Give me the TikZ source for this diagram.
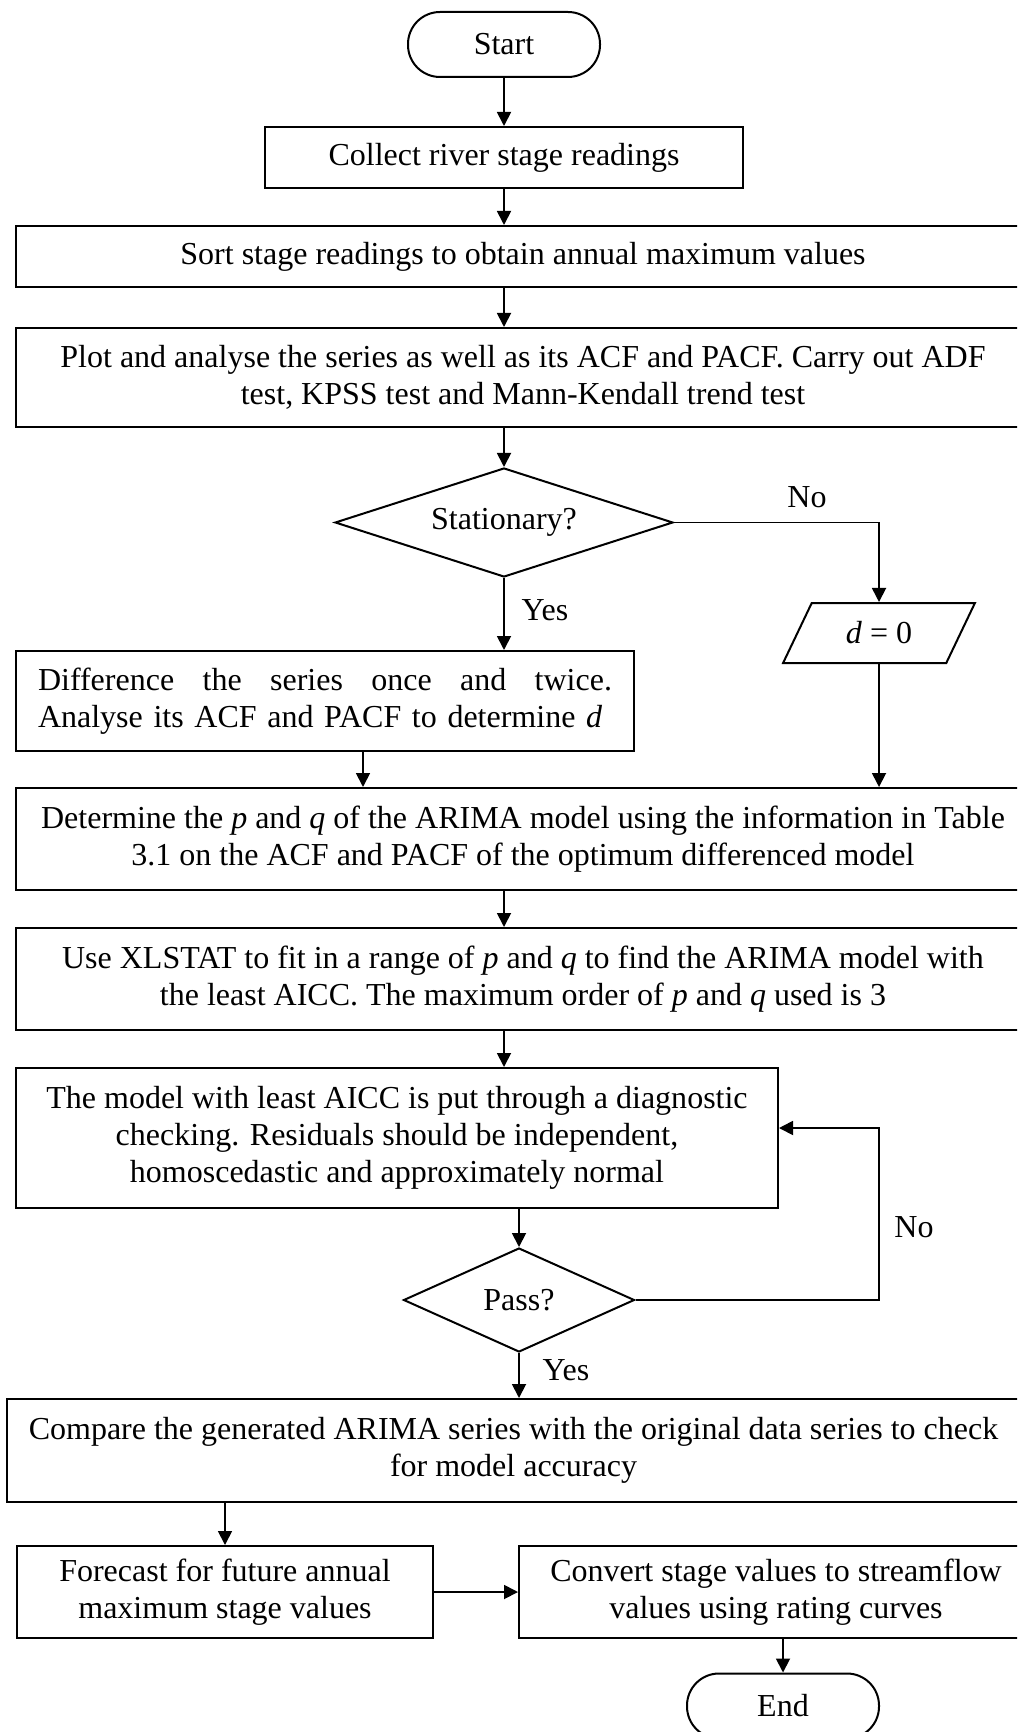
\documentclass[tikz,border=0pt]{standalone}
\usepackage{fontspec}
\setmainfont{Liberation Serif}
\usetikzlibrary{arrows.meta,shapes.geometric}

\begin{document}
\begin{tikzpicture}[x=0.5pt, y=-0.5pt, line width=0.9pt, >={Triangle[length=7pt,width=7pt]},
  every node/.style={font=\fontsize{16}{18.5}\selectfont, align=center},
  box/.style={draw, line width=1pt, inner sep=0pt},
  widebox/.style={box, minimum width=507pt},
  term/.style={box, rounded corners=16pt, minimum width=96pt, minimum height=32.5pt},
  decision/.style={box, diamond, aspect=2},
  io/.style={box, trapezium, trapezium left angle=58, trapezium right angle=122,
    trapezium stretches=true, minimum width=96pt, minimum height=30pt},
  lbl/.style={inner sep=0pt}]

  \useasboundingbox (0,0) rectangle (1017,1732);
  \clip (0,0) rectangle (1017,1732);
  \coordinate (col) at (504,0);

  % main column
  \node[term] (start) at (504,44.5) {Start};
  \node[box, minimum width=239pt, minimum height=30.5pt] (collect) at (504,157.5) {Collect river stage readings};
  \node[widebox, minimum height=30.5pt] (sort) at (523,256.5) {Sort stage readings to obtain annual maximum values};
  \node[widebox, minimum height=49.5pt] (plot) at (523,377.5) {Plot and analyse the series as well as its ACF and PACF. Carry out ADF\\ test, KPSS test and Mann-Kendall trend test};
  \node[decision, minimum width=169pt, minimum height=54.5pt] (stat) at (504,522.5) {Stationary?};
  \node[io] (dzero) at (879,633) {\textit{d} = 0};
  \node[box, minimum width=309pt, minimum height=50pt, text width=287pt, align=left] (diff) at (325,701)
    {Difference\hfill the\hfill series\hfill once\hfill and\hfill twice.\\ Analyse its ACF and PACF to determine \textit{d}};
  \node[widebox, minimum height=51pt] (determ) at (523,839) {Determine the \textit{p} and \textit{q} of the ARIMA model using the information in Table\\ 3.1 on the ACF and PACF of the optimum differenced model};
  \node[widebox, minimum height=51pt] (xlstat) at (523,979) {Use XLSTAT to fit in a range of \textit{p} and \textit{q} to find the ARIMA model with\\ the least AICC. The maximum order of \textit{p} and \textit{q} used is 3};
  \node[box, minimum width=381pt, minimum height=70pt] (diag) at (397,1138) {The model with least AICC is put through a diagnostic\\ checking. Residuals should be independent,\\ homoscedastic and approximately normal};
  \node[decision, minimum width=115.5pt, minimum height=52pt] (pass) at (519,1300) {Pass?};
  \node[box, minimum width=506.5pt, minimum height=51.5pt] (compare) at (513.5,1450.5) {Compare the generated ARIMA series with the original data series to check\\ for model accuracy};
  \node[box, minimum width=208pt, minimum height=46pt] (forecast) at (225,1592) {Forecast for future annual\\ maximum stage values};
  \node[box, minimum width=257pt, minimum height=46pt] (convert) at (776,1592) {Convert stage values to streamflow\\ values using rating curves};
  \node[term] (finish) at (783,1706) {End};

  % labels
  \node[lbl] (no1) at (807,497) {No};
  \node[lbl] (yes1) at (545,610) {Yes};
  \node[lbl] (no2) at (914,1227) {No};
  \node[lbl] (yes2) at (566,1370) {Yes};

  % connectors
  \draw[->] (start) -- (collect);
  \draw[->] (collect.south) -- (collect.south |- sort.north);
  \draw[->] (sort.south -| col) -- (plot.north -| col);
  \draw[->] (plot.south -| col) -- (stat.north);
  \draw[->] (stat.east) -| (dzero.north);
  \draw[->] (stat.south) -- (stat.south |- diff.north);
  \draw[->] ([xshift=19pt]diff.south) -- ([xshift=19pt]diff.south |- determ.north);
  \draw[->] (dzero.south) -- (dzero.south |- determ.north);
  \draw[->] (determ.south -| col) -- (xlstat.north -| col);
  \draw[->] (xlstat.south -| col) -- (diag.north -| col);
  \draw[->] (diag.south -| pass) -- (pass.north);
  \draw[->] (pass.east) -- (pass.east -| dzero.south) |- ([yshift=5pt]diag.east);
  \draw[->] (pass.south) -- (pass.south |- compare.north);
  \draw[->] (compare.south -| forecast) -- (forecast.north);
  \draw[->] (forecast) -- (forecast -| convert.west);
  \draw[->] (convert.south -| finish) -- (finish.north);
\end{tikzpicture}
\end{document}
